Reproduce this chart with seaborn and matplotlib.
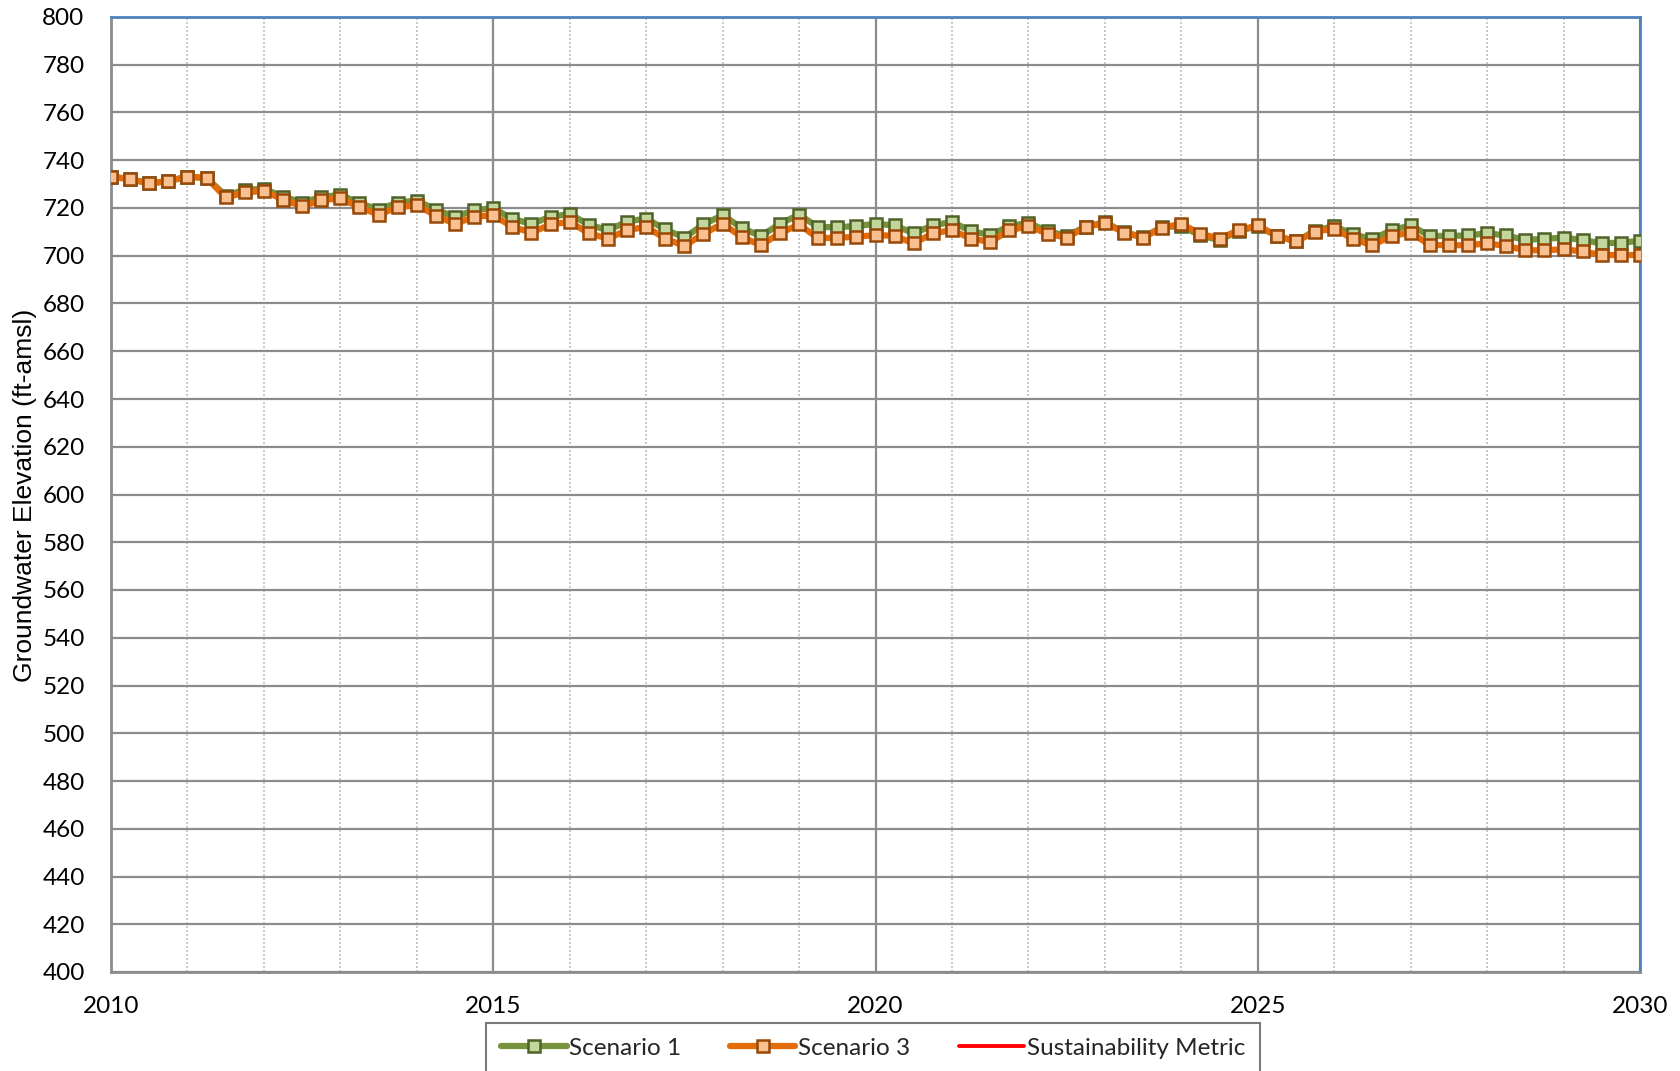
import numpy as np
import pandas as pd
import matplotlib
matplotlib.use("Agg")
import matplotlib.pyplot as plt
import seaborn as sns

# quarterly decimal years 2010.00 ... 2030.00
years = [2010 + q / 4 for q in range(81)]

scenario_3 = [
    733.1, 732.1, 730.3, 731.3, 733.1, 732.6, 724.4, 726.5,
    727.2, 723.5, 720.7, 723.2, 724.1, 720.3, 717.2, 720.3,
    721.2, 716.8, 713.3, 716.3, 717.0, 712.1, 709.7, 713.1,
    714.2, 709.4, 707.2, 710.7, 712.1, 707.2, 704.1, 709.2,
    713.4, 707.9, 704.4, 709.4, 713.1, 707.3, 707.6, 707.9,
    708.7, 708.3, 705.2, 709.4, 710.7, 707.2, 705.8, 710.6,
    712.4, 709.2, 707.6, 712.0, 713.8, 709.7, 707.6, 711.7,
    713.4, 709.2, 707.2, 710.7, 712.7, 708.3, 706.0, 710.1,
    711.4, 706.9, 704.4, 708.3, 709.7, 704.5, 704.4, 704.4,
    705.2, 704.1, 702.3, 702.3, 702.7, 701.8, 700.3, 700.3,
    700.3,
]

scenario_1 = [
    733.1, 732.1, 730.3, 731.3, 733.1, 732.6, 725.2, 727.6,
    728.0, 724.8, 722.3, 724.6, 725.5, 722.1, 719.3, 722.3,
    723.1, 719.3, 716.3, 719.0, 720.0, 715.4, 713.4, 716.3,
    717.5, 713.0, 710.7, 714.3, 715.6, 711.0, 707.6, 713.1,
    717.0, 711.7, 708.2, 713.4, 717.2, 712.0, 712.0, 712.4,
    713.4, 712.7, 709.4, 712.7, 714.2, 710.3, 708.7, 712.4,
    713.8, 710.3, 708.3, 712.2, 714.0, 709.9, 707.8, 712.0,
    712.4, 708.5, 706.5, 710.4, 712.4, 708.3, 706.0, 710.5,
    712.4, 709.0, 706.9, 710.7, 712.7, 708.3, 708.3, 708.5,
    709.4, 708.5, 706.6, 707.1, 707.6, 706.6, 705.2, 705.5,
    706.2,
]

y_ticks = list(range(400, 801, 20))
x_ticks = [2010, 2015, 2020, 2025, 2030]
x_minor = [y for y in range(2010, 2031) if y % 5 != 0]

sns.set_theme(style="white")
plt.rcParams["font.family"] = ["Lato", "DejaVu Sans"]

df = pd.DataFrame({"year": years, "s1": scenario_1, "s3": scenario_3})

fig = plt.figure(figsize=(16.8, 10.71), dpi=100)
ax = fig.add_axes([111 / 1680, 1 - 972 / 1071, (1640 - 111) / 1680, (972 - 17) / 1071])

sns.lineplot(data=df, x="year", y="s1", ax=ax, color="#77933C", linewidth=4.5,
             marker="s", markersize=9, markerfacecolor="#C3D69B",
             markeredgecolor="#4F6228", markeredgewidth=1.8,
             label="Scenario 1", zorder=3)
sns.lineplot(data=df, x="year", y="s3", ax=ax, color="#E46C0A", linewidth=4.5,
             marker="s", markersize=9, markerfacecolor="#FAC090",
             markeredgecolor="#984807", markeredgewidth=1.8,
             label="Scenario 3", zorder=4)
ax.plot([], [], color="#FF0000", linewidth=2.8, label="Sustainability Metric")

ax.set_xlim(2010, 2030)
ax.set_ylim(400, 800)
ax.set_yticks(y_ticks)
ax.set_xticks(x_ticks)
ax.set_xticks(x_minor, minor=True)
ax.set_xticklabels([str(t) for t in x_ticks])

ax.grid(True, which="major", axis="both", color="#8C8C8C", linewidth=1.6, linestyle="-")
ax.grid(True, which="minor", axis="x", color="#BFBFBF", linewidth=1.2, linestyle=(0, (1.2, 1.2)))
ax.set_axisbelow(True)

for side in ["top", "right"]:
    ax.spines[side].set_color("#4F81BD")
    ax.spines[side].set_linewidth(2.0)
for side in ["left", "bottom"]:
    ax.spines[side].set_color("#8C8C8C")
    ax.spines[side].set_linewidth(2.0)

ax.tick_params(axis="both", which="both", length=0, labelsize=17.5, colors="black")
ax.tick_params(axis="y", pad=19)
ax.tick_params(axis="x", pad=17)

ax.set_xlabel("")
ax.set_ylabel("Groundwater Elevation (ft-amsl)", fontsize=19,
              family=["Liberation Sans", "DejaVu Sans"], color="black")
ax.yaxis.set_label_coords(-0.0484, 0.4995)

leg = ax.legend(loc="upper center", bbox_to_anchor=(873 / 1680, 1 - 1023 / 1071),
                bbox_transform=fig.transFigure, borderaxespad=0, ncol=3, frameon=True,
                fancybox=False, fontsize=17.5, handlelength=2.7, handletextpad=0.1,
                columnspacing=2.0, borderpad=0.6, edgecolor="#595959")
leg.get_frame().set_linewidth(1.5)

fig.savefig("out.png", dpi=100)
